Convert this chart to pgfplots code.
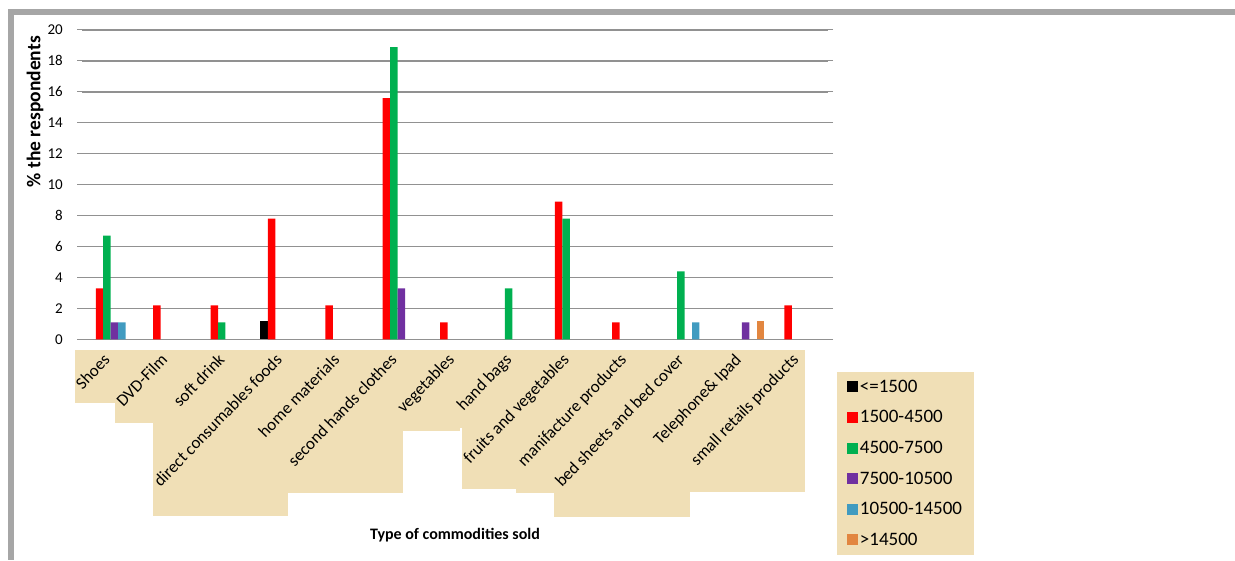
\documentclass[border=0pt]{standalone}
\usepackage{fontspec}
\setmainfont{Carlito}
\usepackage{pgfplots}
\pgfplotsset{compat=1.18}

\definecolor{papyrus}{RGB}{240,223,182}
\definecolor{framegray}{RGB}{166,166,166}
\definecolor{gridgray}{RGB}{145,145,145}
\definecolor{cBlack}{RGB}{0,0,0}
\definecolor{cRed}{RGB}{255,0,0}
\definecolor{cGreen}{RGB}{0,176,80}
\definecolor{cPurple}{RGB}{112,48,160}
\definecolor{cBlue}{RGB}{65,155,192}
\definecolor{cOrange}{RGB}{226,134,64}

% empty box covering the area of a slanted category name
\newcommand{\catbox}[1]{%
  \setbox0=\hbox{#1}%
  \dimen0=0.695\wd0 \advance\dimen0 by 13pt
  \dimen2=0.835\wd0 \advance\dimen2 by 19pt
  \hbox to \dimen0{\vrule width 0pt height \dimen2 depth 0pt\hfil}}

\newcommand{\catlist}{0/Shoes, 1/DVD-Film, 2/soft drink, 3/direct consumables foods,
  4/home materials, 5/second hands clothes, 6/vegetables, 7/hand bags,
  8/fruits and vegetables, 9/manifacture products, 10/bed sheets and bed cover,
  11/Telephone\& Ipad, 12/small retails products}

\begin{document}
\begin{tikzpicture}[x=1pt,y=1pt]
\path[use as bounding box] (0,0) rectangle (1235,560);
% page frame
\fill[framegray] (8,0) rectangle (14,551);
\fill[framegray] (8,545) rectangle (1235,551);

% category names below the plot area (category i centred at 82 + (i+0.5)*746/13)
\foreach \i/\t in \catlist {
  \pgfmathsetmacro\cx{82+(\i+0.5)*57.3846}
  \node[anchor=north east, inner sep=0pt, fill=papyrus,
    font=\fontsize{17pt}{20pt}\selectfont] at (\cx+5.5,210) {\catbox{\t}};
}
\foreach \i/\t in \catlist {
  \pgfmathsetmacro\cx{82+(\i+0.5)*57.3846}
  \node[rotate=46, anchor=south east, inner sep=0pt, text height=12.75pt, text depth=4.25pt,
    font=\fontsize{17pt}{20pt}\selectfont] at (\cx+3.5,196.2) {\t};
}

\begin{axis}[
  at={(82pt,220.7pt)}, anchor=south west,
  scale only axis, width=746pt, height=309.3pt,
  xmin=-0.5, xmax=12.5, ymin=0, ymax=20,
  axis line style={draw=none},
  ybar, bar width=0.13,
  ytick={0,2,...,20},
  xtick=\empty,
  minor xtick={-0.5,0.5,...,12.5},
  ymajorgrids, grid style={draw=gridgray, line width=1.4pt},
  tick align=outside,
  major tick length=5pt, minor tick length=5pt,
  tick style={draw=gridgray, line width=1pt},
  /pgf/number format/assume math mode=true,
  yticklabel style={font=\fontsize{15pt}{18pt}\selectfont, anchor=east, inner sep=0pt, xshift=-14pt},
  ylabel={\% the respondents},
  ylabel style={font=\fontsize{19.5pt}{22pt}\selectfont\bfseries, at={(axis description cs:-0.063,0.736)}, anchor=center},
  xlabel={Type of commodities sold},
  xlabel style={font=\fontsize{16pt}{19pt}\selectfont\bfseries, at={(axis description cs:0.5,-0.633)}, anchor=center},
  legend cell align=left,
  legend image code/.code={\fill[#1] (0pt,-5.5pt) rectangle (11pt,5.5pt);},
  legend style={at={(axis description cs:1.0117,-0.1048)}, anchor=north west,
    fill=papyrus, draw=none, font=\fontsize{19pt}{22pt}\selectfont,
    inner xsep=10pt, inner ysep=6pt, row sep=12.8pt},
]
\addplot[fill=cBlack, draw=none, bar shift=-0.325] coordinates {(3,1.2)};
\addplot[fill=cRed, draw=none, bar shift=-0.195] coordinates {
  (0,3.3) (1,2.2) (2,2.2) (3,7.8) (4,2.2) (5,15.6) (6,1.1) (8,8.9) (9,1.1) (12,2.2)};
\addplot[fill=cGreen, draw=none, bar shift=-0.065] coordinates {
  (0,6.7) (2,1.1) (5,18.9) (7,3.3) (8,7.8) (10,4.4)};
\addplot[fill=cPurple, draw=none, bar shift=0.065] coordinates {
  (0,1.1) (5,3.3) (11,1.1)};
\addplot[fill=cBlue, draw=none, bar shift=0.195] coordinates {
  (0,1.1) (10,1.1)};
\addplot[fill=cOrange, draw=none, bar shift=0.325] coordinates {(11,1.2)};
\legend{<=1500,1500-4500,4500-7500,7500-10500,10500-14500,>14500}
\end{axis}
\end{tikzpicture}
\end{document}
